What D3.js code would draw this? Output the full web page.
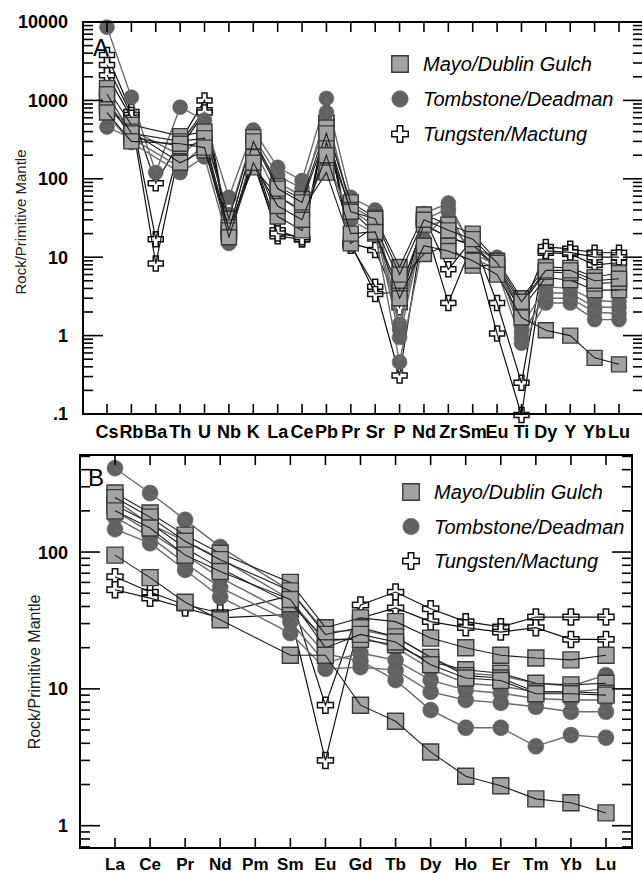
<!DOCTYPE html>
<html>
<head>
<meta charset="utf-8">
<script src="https://cdn.jsdelivr.net/npm/d3@7"></script>
<style>
  body { margin: 0; background: #fff; }
  svg { display: block; font-family: "Liberation Sans", Arial, sans-serif; }
</style>
</head>
<body>
<svg id="chart" width="642" height="873"></svg>
<script>
// element orders
const traceElements = ["Cs","Rb","Ba","Th","U","Nb","K","La","Ce","Pb","Pr","Sr","P","Nd","Zr","Sm","Eu","Ti","Dy","Y","Yb","Lu"];
const reeElements = ["La","Ce","Pr","Nd","Pm","Sm","Eu","Gd","Tb","Dy","Ho","Er","Tm","Yb","Lu"];

const groupNames = ["Mayo/Dublin Gulch", "Tombstone/Deadman", "Tungsten/Mactung"];

// panel A : rock / primitive mantle, trace elements (null = not plotted)
const mayoTrace = [
  [1440, 490, null, 350, 400, 31, 340, 80, 55, 450, 50, 32, 7.5, 35, 26, 20, 9, 3.0, 7.5, 7.3, 5.6, 6.3],
  [1000, 340, null, 260, 290, 20, 190, 33, 22, 290, 40, 20, 3.8, 26, 18, 14.4, 7.5, 2.2, 5.5, 5.1, 3.8, 3.8],
  [820, 400, null, 160, 230, 24, 140, 60, 40, 120, 15, 25, 5, 11, 14, 7.8, 7.8, 2.5, 6.5, 6.3, 4.6, 4.8],
  [1200, 380, null, 300, 330, 22, 300, 75, 50, 380, 38, 31, 6, 30, 22, 17, 8.5, 2.7, 6.8, 6.8, 5.0, 5.3],
  [700, 300, null, 280, 250, 18, 160, 45, 30, 200, 20, 21, 3, 14, 12, 9, 6, 1.7, 1.17, 1.0, 0.52, 0.43]
];
const tombTrace = [
  [8600, 1100, 120, 820, 560, 58, 420, 140, 95, 1060, 58, 40, 1.4, 36, 49, 13, 10, 0.95, 3.5, 3.5, 2.3, 2.3],
  [650, 290, null, 120, 190, 15, 250, 60, 38, 185, 30, 20, 0.46, 17, 38, 9.7, 7, 0.8, 2.6, 2.6, 1.6, 1.6],
  [457, 330, null, 140, 280, 22, 300, 90, 60, 700, 40, 25, 0.95, 25, 30, 11, 8, 1.1, 3.0, 3.0, 2.0, 1.9],
  [900, 420, null, 200, 350, 35, 350, 110, 75, 500, 45, 30, 1.2, 30, 42, 14, 9, 1.3, 4.2, 4.0, 2.8, 2.7]
];
const tungTrace = [
  [3800, 710, 88, 300, 1000, 20, 200, 22, 17, 600, 15, 12.4, 2.3, 33, 7, 17, 2.6, 0.25, 13.5, 12.8, 11.4, 11.4],
  [2830, 650, 17, 280, 750, 18, 180, 18.5, 17, 500, 14, 4.2, 0.31, 28, 2.6, 15, 1.06, 0.097, 11.4, 11, 8.0, 8.5],
  [2100, 600, 8.3, 250, 700, 22, 160, 20, 18, 450, 15, 3.4, 3.6, 26, 18, 14, 7, 2.0, 12, 11.5, 10, 10]
];

// panel B : rare earth elements (Pm not analysed)
const mayoRee = [
  [270, 193, 133, 98, null, 60, 28, 33, 31, 23.5, 20, 17.6, 16.8, 16.3, 17.6],
  [220, 163, 107, 76, null, 42, 23, 23, 21, 15.7, 13.8, 13, 11, 10.7, 11],
  [250, 180, 120, 88, null, 52, 25, 28, 24, 17, 12.5, 12, 9.5, 9.5, 9.3],
  [200, 150, 95, 72, null, 45, 20, 25, 22, 15, 12, 11.5, 9.2, 9.2, 9.0],
  [95, 65, 43, 32, null, 17.6, 17.6, 7.6, 5.8, 3.46, 2.3, 1.96, 1.57, 1.47, 1.24]
];
const tombRee = [
  [410, 270, 172, 109, null, 52, 26, 27, 24, 17, 13, 12.5, 11, 10.5, 12.6],
  [240, 160, 120, 90, null, 45, 22, 24, 20, 14, 11, 10.5, 9.5, 9.5, 10],
  [180, 129, 83, 55, null, 31, 15.5, 18.3, 16.2, 11.6, 9.8, 9.3, 8.5, 8.3, 8.3],
  [147, 116, 74, 47, null, 25.6, 14, 14.4, 13.7, 9.5, 8.3, 7.9, 7.4, 6.8, 6.8],
  [200, 140, 95, 65, null, 35, 18, 16, 11.6, 7.0, 5.2, 5.2, 3.8, 4.6, 4.4]
];
const tungRee = [
  [66, 51, 41, 36, null, 48, 7.6, 41, 51, 38.5, 31, 28.4, 33.5, 33.5, 33.5],
  [53, 46, 39, 33, null, 35, 3.0, 33, 39, 31, 28, 26, 28, 23, 23]
];

const styles = {
  mayo: { shape: d3.symbolSquare, fill: "#a3a3a3", stroke: "#3a3a3a", sw: 1.4, line: "#1e1e1e", lw: 1.1 },
  tomb: { shape: d3.symbolCircle, fill: "#616161", stroke: "#616161", sw: 0.5, line: "#6a6a6a", lw: 1.4 },
  tung: { shape: d3.symbolCross, fill: "#ffffff", stroke: "#111111", sw: 1.5, line: "#111111", lw: 1.2 }
};

const svg = d3.select("#chart");

function symbolPath(key, s) {
  const st = styles[key];
  let size;
  if (key === "mayo") size = s * s;
  else if (key === "tomb") size = Math.PI * (s / 2) * (s / 2);
  else size = 5 * Math.pow(s / 3, 2);
  return d3.symbol(st.shape, size)();
}

function drawPanel(opt) {
  const g = svg.append("g");
  const x = d3.scalePoint().domain(opt.elements).range(opt.xRange);
  const y = d3.scaleLog().domain(opt.yDomain).range([opt.bottom, opt.top]);

  // samples: crosses underneath, squares on top
  const groups = [["tung", opt.tung], ["tomb", opt.tomb], ["mayo", opt.mayo]];
  groups.forEach(([key, rows]) => {
    const st = styles[key];
    rows.forEach(row => {
      const pts = opt.elements.map((el, i) => ({ el, v: row[i] })).filter(p => p.v != null);
      g.append("g").selectAll("path")
        .data(pts)
        .join("path")
        .attr("transform", p => `translate(${x(p.el)},${y(p.v)})`)
        .attr("d", symbolPath(key, opt.marker))
        .attr("fill", st.fill)
        .attr("stroke", st.stroke)
        .attr("stroke-width", st.sw);
      g.append("path")
        .datum(pts)
        .attr("fill", "none")
        .attr("stroke", st.line)
        .attr("stroke-width", st.lw)
        .attr("d", d3.line().x(p => x(p.el)).y(p => y(p.v)));
    });
  });

  // frame
  g.append("rect")
    .attr("x", opt.left).attr("y", opt.top)
    .attr("width", opt.right - opt.left).attr("height", opt.bottom - opt.top)
    .attr("fill", "none").attr("stroke", "#000").attr("stroke-width", 2);

  // y ticks, both sides
  const yt = y.ticks().filter(t => t >= opt.yDomain[0] && t <= opt.yDomain[1]);
  yt.forEach(t => {
    const lg = Math.log10(t);
    const major = Math.abs(lg - Math.round(lg)) < 1e-6;
    const len = major ? 20 : 10;
    g.append("line").attr("x1", opt.left).attr("x2", opt.left + len)
      .attr("y1", y(t)).attr("y2", y(t)).attr("stroke", "#000").attr("stroke-width", 1.6);
    g.append("line").attr("x1", opt.right).attr("x2", opt.right - len)
      .attr("y1", y(t)).attr("y2", y(t)).attr("stroke", "#000").attr("stroke-width", 1.6);
    if (major) {
      g.append("text")
        .attr("x", 68).attr("y", y(t)).attr("dy", "0.36em")
        .attr("text-anchor", "end")
        .attr("font-size", 18).attr("font-weight", "bold")
        .text(t < 1 ? String(t).replace(/^0/, "") : String(t));
    }
  });

  // x ticks top and bottom
  opt.elements.forEach(el => {
    g.append("line").attr("x1", x(el)).attr("x2", x(el))
      .attr("y1", opt.top).attr("y2", opt.top + 10).attr("stroke", "#000").attr("stroke-width", 1.6);
    g.append("line").attr("x1", x(el)).attr("x2", x(el))
      .attr("y1", opt.bottom).attr("y2", opt.bottom - 10).attr("stroke", "#000").attr("stroke-width", 1.6);
    g.append("text")
      .attr("x", x(el)).attr("y", opt.xLabelY)
      .attr("text-anchor", "middle")
      .attr("font-size", opt.xLabelSize).attr("font-weight", "bold")
      .text(el);
  });

  // axis title
  g.append("text")
    .attr("transform", `translate(${opt.titleX},${opt.titleY}) rotate(-90)`)
    .attr("text-anchor", "middle")
    .attr("font-size", opt.titleSize)
    .attr("fill", "#222")
    .text("Rock/Primitive Mantle");

  // panel letter
  g.append("text")
    .attr("x", opt.letterX).attr("y", opt.letterY)
    .attr("font-size", 24)
    .text(opt.letter);

  // legend
  ["mayo", "tomb", "tung"].forEach((key, i) => {
    const st = styles[key];
    const cy = opt.legY + i * opt.legStep;
    g.append("path")
      .attr("transform", `translate(${opt.legX},${cy})`)
      .attr("d", symbolPath(key, 16.5))
      .attr("fill", st.fill).attr("stroke", st.stroke).attr("stroke-width", st.sw);
    g.append("text")
      .attr("x", opt.legX + opt.legGap).attr("y", cy).attr("dy", "0.36em")
      .attr("font-size", 20).attr("font-style", "italic")
      .text(groupNames[i]);
  });
}

drawPanel({
  elements: traceElements, xRange: [107, 619],
  left: 83, right: 643, top: 22, bottom: 414,
  yDomain: [0.1, 10000], marker: 15,
  mayo: mayoTrace, tomb: tombTrace, tung: tungTrace,
  xLabelY: 438, xLabelSize: 18, titleX: 26, titleY: 222, titleSize: 15,
  letter: "A", letterX: 93, letterY: 56,
  legX: 400, legY: 64, legStep: 35, legGap: 23
});

drawPanel({
  elements: reeElements, xRange: [115, 606],
  left: 80, right: 632, top: 455, bottom: 848,
  yDomain: [0.687, 512], marker: 16,
  mayo: mayoRee, tomb: tombRee, tung: tungRee,
  xLabelY: 870, xLabelSize: 17, titleX: 40, titleY: 672, titleSize: 16,
  letter: "B", letterX: 88, letterY: 486,
  legX: 411, legY: 492, legStep: 34.5, legGap: 23
});
</script>
</body>
</html>
